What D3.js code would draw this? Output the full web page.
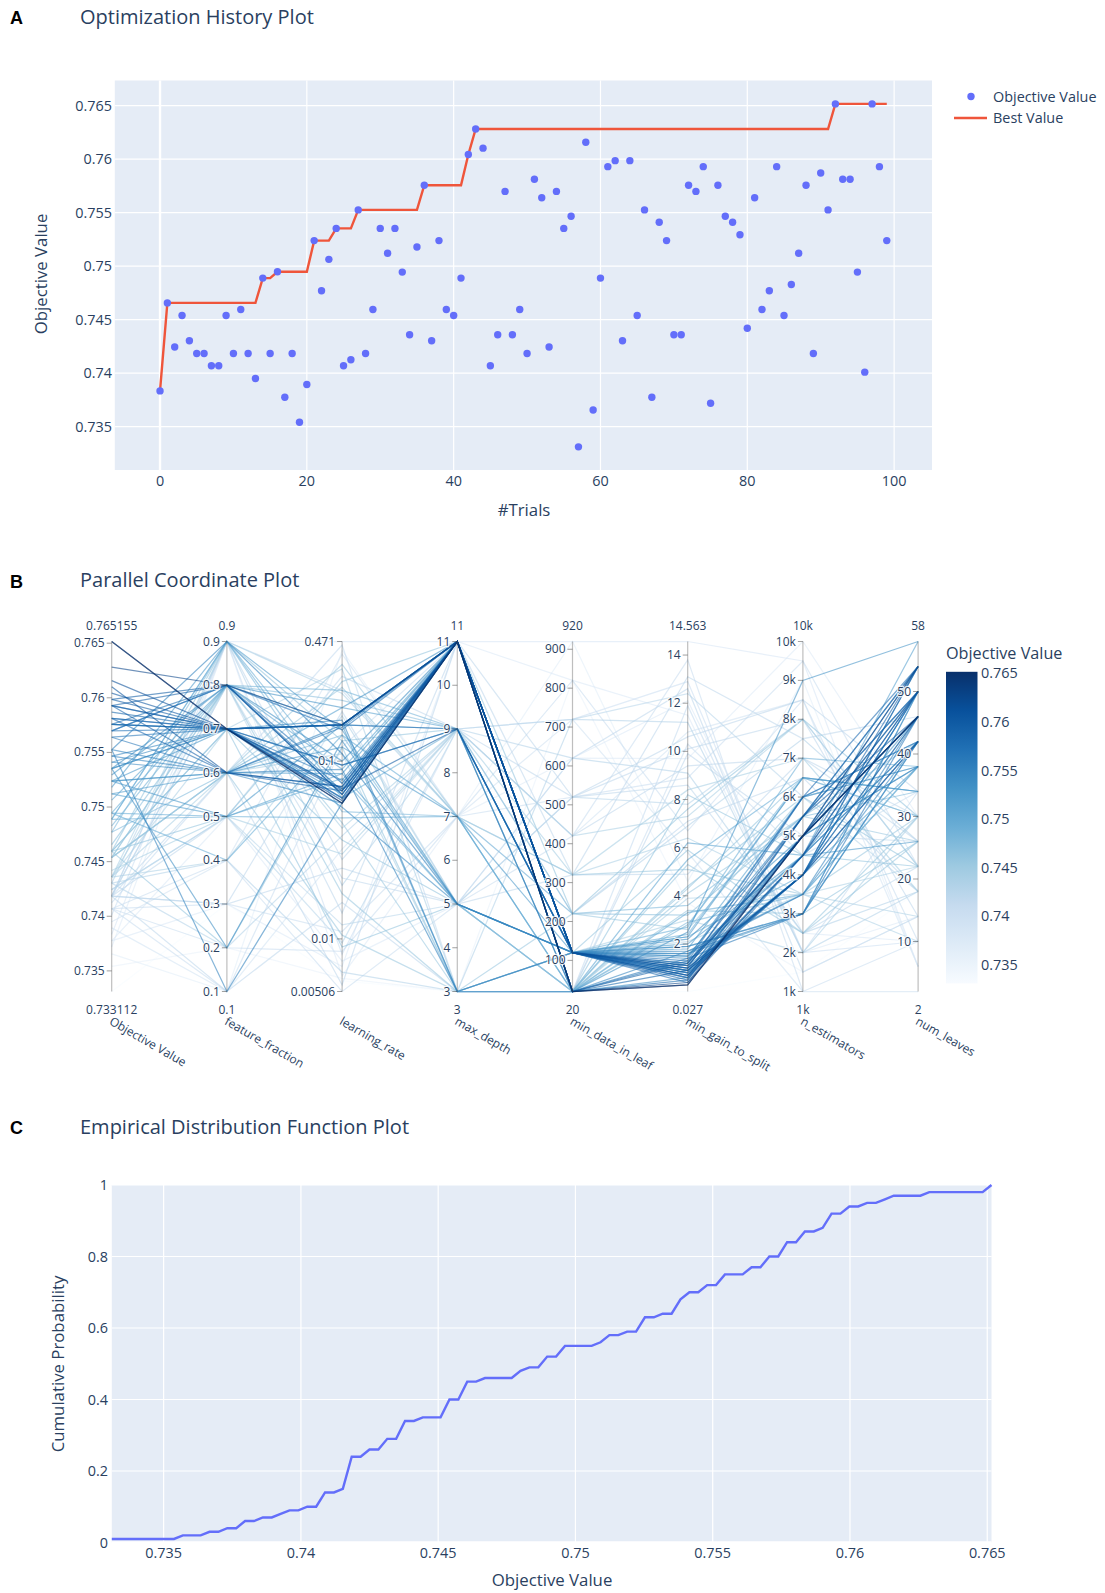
<!DOCTYPE html>
<html><head><meta charset="utf-8">
<script src="https://cdn.jsdelivr.net/npm/d3@7"></script>
<style>body{margin:0;background:#fff;} svg{display:block;}</style>
</head><body>
<svg id="chart" width="1105" height="1593"></svg>
<script>
// ---------------- DATA ----------------
const objectiveValues = [
 0.73834,0.74656,0.74244,0.74538,0.74303,0.74184,0.74184,0.74069,0.74069,0.74538,
 0.74184,0.74594,0.74184,0.73950,0.74888,0.74184,0.74947,0.73775,0.74184,0.73541,
 0.73894,0.75238,0.74769,0.75063,0.75352,0.74069,0.74125,0.75525,0.74184,0.74594,
 0.75352,0.75120,0.75352,0.74944,0.74359,0.75179,0.75756,0.74303,0.75238,0.74594,
 0.74538,0.74888,0.76043,0.76281,0.76102,0.74069,0.74359,0.75698,0.74359,0.74594,
 0.74184,0.75812,0.75639,0.74244,0.75698,0.75352,0.75466,0.733112,0.76157,0.73656,
 0.74888,0.75929,0.75985,0.74303,0.75985,0.74538,0.75525,0.73775,0.75410,0.75238,
 0.74359,0.74359,0.75756,0.75698,0.75929,0.73719,0.75756,0.75466,0.75410,0.75293,
 0.74419,0.75639,0.74594,0.74769,0.75929,0.74538,0.74828,0.75120,0.75756,0.74184,
 0.75870,0.75525,0.765155,0.75812,0.75812,0.74944,0.74009,0.765155,0.75929,0.75238];
const featureFraction = [
 0.9,0.8,0.5,0.6,0.4,0.9,0.3,0.2,0.1,0.8, 0.5,0.7,0.6,0.4,0.9,0.1,0.8,0.5,0.9,0.2,
 0.1,0.7,0.6,0.8,0.7,0.3,0.6,0.1,0.8,0.9, 0.7,0.6,0.8,0.5,0.7,0.9,0.7,0.2,0.6,0.5,
 0.8,0.9,0.7,0.8,0.6,0.4,0.6,0.7,0.9,0.7, 0.8,0.7,0.6,0.5,0.8,0.2,0.7,0.3,0.7,0.1,
 0.5,0.7,0.8,0.9,0.7,0.6,0.9,0.3,0.6,0.5, 0.8,0.4,0.7,0.8,0.6,0.9,0.7,0.6,0.7,0.8,
 0.5,0.7,0.2,0.9,0.7,0.6,0.8,0.5,0.8,0.3, 0.7,0.6,0.7,0.7,0.6,0.4,0.9,0.7,0.8,0.6];
const learningRate = [
 0.471,0.22,0.012,0.35,0.0065,0.028,0.19,0.0085,0.12,0.045,
 0.3,0.009,0.0055,0.4,0.075,0.016,0.16,0.0075,0.25,0.006,
 0.032,0.065,0.14,0.09,0.16,0.011,0.45,0.058,0.022,0.13,
 0.07,0.2,0.1,0.048,0.33,0.15,0.16,0.038,0.085,0.28,
 0.018,0.062,0.068,0.16,0.072,0.00506,0.11,0.095,0.24,0.036,
 0.014,0.062,0.155,0.0095,0.075,0.13,0.17,0.0058,0.06,0.42,
 0.08,0.16,0.065,0.02,0.07,0.26,0.11,0.007,0.058,0.16,
 0.042,0.18,0.062,0.15,0.068,0.0062,0.095,0.16,0.055,0.2,
 0.03,0.078,0.12,0.052,0.16,0.0105,0.25,0.085,0.068,0.025,
 0.16,0.09,0.058,0.16,0.072,0.14,0.0082,0.058,0.065,0.12];
const maxDepth = [
 11,9,5,7,3,9,5,7,11,3, 9,5,11,7,11,3,9,5,7,3, 9,11,5,11,11,7,3,11,5,9,
 11,9,11,7,3,5,11,9,11,11, 3,9,11,11,11,5,3,9,7,5, 11,11,11,9,11,5,3,3,11,7,
 5,11,11,9,9,7,5,11,11,3, 9,5,11,11,11,7,9,11,5,11, 9,11,3,7,11,3,9,5,11,5,
 11,3,11,9,11,7,9,11,11,7];
const minDataInLeaf = [
 920,220,520,320,720,420,620,820,20,220, 520,20,320,720,120,20,120,620,220,820,
 420,120,20,20,120,520,20,120,320,20, 20,120,120,20,120,120,20,620,120,220,
 20,120,120,20,120,420,120,120,320,20, 520,120,20,720,120,120,20,20,120,920,
 120,120,20,220,120,20,120,820,120,120, 420,20,120,120,120,620,20,120,120,20,
 320,120,20,220,120,120,20,120,120,520, 20,120,20,120,120,20,720,20,120,120];
const minGainToSplit = [
 14.563,3.2,7.8,5.1,11.2,9.4,12.6,6.7,10.3,2.6, 8.6,4.3,13.1,5.8,1.9,9.9,2.3,12.1,7.1,3.7,
 10.8,1.2,2.9,6.2,0.8,8.9,11.9,1.5,4.9,3.4, 0.6,1.8,0.9,5.5,2.1,1.1,0.5,9.1,1.6,7.6,
 4.1,2.7,0.7,0.4,1.0,13.8,3.0,1.3,6.4,8.2, 10.6,0.8,1.4,12.4,0.9,2.2,1.7,0.027,1.1,4.6,
 2.4,0.6,1.2,6.9,0.9,5.3,1.9,11.5,1.4,2.0, 7.3,3.9,0.7,1.0,0.5,9.7,1.3,1.6,1.1,2.5,
 8.4,0.8,4.4,3.6,1.2,5.9,2.8,1.5,0.6,10.1, 0.9,1.7,0.3,1.0,0.4,3.3,12.9,0.3,0.7,2.3];
const nEstimators = [
 9500,5500,8000,3500,2000,7000,1500,8500,4500,6000, 2500,6500,7500,1000,3000,5000,4000,2500,6500,1500,
 8500,5000,3500,4500,4000,9500,2000,5500,7000,3000, 4500,6000,5000,6500,3500,4000,5000,2500,3000,8000,
 5500,7000,4500,5000,4000,1000,2000,6000,3500,4500, 8500,5500,3000,6000,4000,5000,3500,1500,5000,9000,
 6500,4500,5500,7500,4000,2500,3000,2000,6000,4500, 8000,3500,5000,4000,5500,10000,4500,3500,5000,9000,
 7000,4000,6000,5500,5000,2500,6500,4500,5500,8000, 4000,3000,5000,6000,4500,3500,2000,5000,4000,6500];
const numLeaves = [
 6,42,22,30,18,26,14,10,34,38, 22,30,46,2,50,26,46,10,18,14, 6,46,38,42,50,22,34,54,30,26,
 46,42,50,34,22,38,54,18,42,30, 26,38,50,54,46,10,30,42,14,22, 34,50,46,18,54,38,42,18,50,6,
 34,54,46,26,42,30,50,14,38,26, 22,10,46,50,54,30,42,46,38,58, 18,50,22,34,46,26,30,58,50,14,
 54,42,46,54,50,38,10,46,42,34];

// tick labels
const historyXTicks = [0,20,40,60,80,100];
const historyYTicks = [0.735,0.74,0.745,0.75,0.755,0.76,0.765];
const objTicks = [0.735,0.74,0.745,0.75,0.755,0.76,0.765];
const ffTicks = [0.1,0.2,0.3,0.4,0.5,0.6,0.7,0.8,0.9];
const lrTicks = [0.00506,0.01,0.1,0.471];
const lrTickText = ["0.00506","0.01","0.1","0.471"];
const mdTicks = [3,4,5,6,7,8,9,10,11];
const mdlTicks = [100,200,300,400,500,600,700,800,900];
const mgsTicks = [2,4,6,8,10,12,14];
const nestTicks = [1000,2000,3000,4000,5000,6000,7000,8000,9000,10000];
const nestTickText = ["1k","2k","3k","4k","5k","6k","7k","8k","9k","10k"];
const nlTicks = [10,20,30,40,50];
const rangeTopLabels = ["0.765155","0.9","","11","920","14.563","10k","58"];
const rangeBottomLabels = ["0.733112","0.1","","3","20","0.027","1k","2"];
const dimNames = ["Objective Value","feature_fraction","learning_rate","max_depth","min_data_in_leaf","min_gain_to_split","n_estimators","num_leaves"];
const colorbarTicks = [0.735,0.74,0.745,0.75,0.755,0.76,0.765];
const edfXTicks = [0.735,0.74,0.745,0.75,0.755,0.76,0.765];
const edfYTicks = [0,0.2,0.4,0.6,0.8,1];

// ---------------- STYLE ----------------
const FONT = '"Open Sans", "DejaVu Sans", sans-serif';
const TXT = "#2a3f5f";
const BG = "#E5ECF6";
const BLUE = "#636efa", RED = "#EF553B";
const BLUES = ["#f7fbff","#deebf7","#c6dbef","#9ecae1","#6baed6","#4292c6","#2171b5","#08519c","#08306b"];
const fmt = v => String(+v.toFixed(4));

const svg = d3.select("#chart").style("font-family", FONT);

function panelLabel(t, y){ svg.append("text").attr("x",10).attr("y",y).attr("font-family","Arial, 'Liberation Sans', sans-serif").attr("font-weight","bold").attr("font-size",18).attr("fill","#000").text(t); }
function title(t, y){ svg.append("text").attr("x",80).attr("y",y).attr("font-size",20).attr("fill",TXT).text(t); }

// ================= PANEL A =================
panelLabel("A", 24); title("Optimization History Plot", 24);
const A = {l:114.8, r:932, t:80.5, b:470};
const xA = d3.scaleLinear().domain([-6.16,105.16]).range([A.l,A.r]);
const yA = d3.scaleLinear().domain([0.73095,0.76734]).range([A.b,A.t]);
const gA = svg.append("g");
gA.append("rect").attr("x",A.l).attr("y",A.t).attr("width",A.r-A.l).attr("height",A.b-A.t).attr("fill",BG);
historyXTicks.forEach(t=>{
  gA.append("line").attr("x1",xA(t)).attr("x2",xA(t)).attr("y1",A.t).attr("y2",A.b).attr("stroke","#fff").attr("stroke-width",t===0?2.4:1.2);
  gA.append("text").attr("x",xA(t)).attr("y",486).attr("text-anchor","middle").attr("font-size",14.4).attr("fill",TXT).text(t);
});
historyYTicks.forEach(t=>{
  gA.append("line").attr("x1",A.l).attr("x2",A.r).attr("y1",yA(t)).attr("y2",yA(t)).attr("stroke","#fff").attr("stroke-width",1.2);
  gA.append("text").attr("x",112).attr("y",yA(t)+5).attr("text-anchor","end").attr("font-size",14.4).attr("fill",TXT).text(fmt(t));
});
let runBest = -Infinity;
const bestValues = objectiveValues.map(v => (runBest = Math.max(runBest, v)));
gA.append("path").datum(bestValues).attr("fill","none").attr("stroke",RED).attr("stroke-width",2.4)
  .attr("d", d3.line().x((d,i)=>xA(i)).y(d=>yA(d)));
gA.selectAll("circle.pt").data(objectiveValues).join("circle").attr("class","pt")
  .attr("cx",(d,i)=>xA(i)).attr("cy",d=>yA(d)).attr("r",3.7).attr("fill",BLUE);
gA.append("text").attr("x",524).attr("y",516).attr("text-anchor","middle").attr("font-size",16.8).attr("fill",TXT).text("#Trials");
gA.append("text").attr("transform","translate(47,274) rotate(-90)").attr("text-anchor","middle").attr("font-size",16.8).attr("fill",TXT).text("Objective Value");
// legend
gA.append("circle").attr("cx",971).attr("cy",96.5).attr("r",3.7).attr("fill",BLUE);
gA.append("text").attr("x",993).attr("y",101.5).attr("font-size",14.4).attr("fill",TXT).text("Objective Value");
gA.append("line").attr("x1",954).attr("x2",987).attr("y1",118).attr("y2",118).attr("stroke",RED).attr("stroke-width",2.4);
gA.append("text").attr("x",993).attr("y",123).attr("font-size",14.4).attr("fill",TXT).text("Best Value");

// ================= PANEL B =================
panelLabel("B", 588); title("Parallel Coordinate Plot", 587);
const B = {l:111.7, r:918.1, t:641.5, b:991.5};
const objExt = d3.extent(objectiveValues);
const dims = [
  {vals:objectiveValues, scale:d3.scaleLinear().domain(objExt), ticks:objTicks, text:objTicks.map(fmt)},
  {vals:featureFraction, scale:d3.scaleLinear().domain(d3.extent(featureFraction)), ticks:ffTicks, text:ffTicks.map(fmt)},
  {vals:learningRate, scale:d3.scaleLog().domain(d3.extent(learningRate)), ticks:lrTicks, text:lrTickText},
  {vals:maxDepth, scale:d3.scaleLinear().domain(d3.extent(maxDepth)), ticks:mdTicks, text:mdTicks.map(String)},
  {vals:minDataInLeaf, scale:d3.scaleLinear().domain(d3.extent(minDataInLeaf)), ticks:mdlTicks, text:mdlTicks.map(String)},
  {vals:minGainToSplit, scale:d3.scaleLinear().domain(d3.extent(minGainToSplit)), ticks:mgsTicks, text:mgsTicks.map(String)},
  {vals:nEstimators, scale:d3.scaleLinear().domain(d3.extent(nEstimators)), ticks:nestTicks, text:nestTickText},
  {vals:numLeaves, scale:d3.scaleLinear().domain(d3.extent(numLeaves)), ticks:nlTicks, text:nlTicks.map(String)}
];
dims.forEach(d=>d.scale.range([B.b,B.t]));
const xB = d3.scalePoint().domain(dimNames).range([B.l,B.r]);
const colorB = d3.scaleLinear().domain(BLUES.map((c,i)=>objExt[0]+(objExt[1]-objExt[0])*i/(BLUES.length-1))).range(BLUES);
const gB = svg.append("g");
const order = d3.range(objectiveValues.length).sort((a,b)=>objectiveValues[a]-objectiveValues[b]);
const lineB = d3.line();
gB.selectAll("path.pc").data(order).join("path").attr("class","pc")
  .attr("fill","none").attr("stroke",i=>colorB(objectiveValues[i])).attr("stroke-width",1.25).attr("stroke-opacity",0.58)
  .attr("d",i=>lineB(dims.map((d,k)=>[xB(dimNames[k]), d.scale(d.vals[i])])));
dims.forEach((d,k)=>{
  const x = xB(dimNames[k]);
  const ax = gB.append("g");
  ax.append("line").attr("x1",x).attr("x2",x).attr("y1",B.t).attr("y2",B.b).attr("stroke","#444").attr("stroke-opacity",0.35).attr("stroke-width",1.2);
  d.ticks.forEach((t,j)=>{
    const y = d.scale(t);
    ax.append("line").attr("x1",x-5).attr("x2",x).attr("y1",y).attr("y2",y).attr("stroke","#444").attr("stroke-opacity",0.5);
    ax.append("text").attr("x",x-7).attr("y",y+4).attr("text-anchor","end").attr("font-size",12).attr("fill",TXT)
      .attr("stroke","#fff").attr("stroke-width",2.5).attr("stroke-opacity",0.8).attr("paint-order","stroke").text(d.text[j]);
  });
  ax.append("text").attr("x",x).attr("y",629.5).attr("text-anchor","middle").attr("font-size",12).attr("fill",TXT).text(rangeTopLabels[k]);
  ax.append("text").attr("x",x).attr("y",1013.5).attr("text-anchor","middle").attr("font-size",12).attr("fill",TXT).text(rangeBottomLabels[k]);
  ax.append("text").attr("transform",`translate(${x},1014) rotate(30)`).attr("x",2).attr("y",10).attr("font-size",12).attr("fill",TXT).text(dimNames[k]);
});
// colorbar
const CB = {x:946, w:31.5, t:671.8, b:983.4};
const cbScale = d3.scaleLinear().domain(objExt).range([CB.b,CB.t]);
const grad = svg.append("defs").append("linearGradient").attr("id","cbgrad").attr("x1",0).attr("x2",0).attr("y1",1).attr("y2",0);
BLUES.forEach((c,i)=>grad.append("stop").attr("offset",i/(BLUES.length-1)).attr("stop-color",c));
gB.append("rect").attr("x",CB.x).attr("y",CB.t).attr("width",CB.w).attr("height",CB.b-CB.t).attr("fill","url(#cbgrad)");
colorbarTicks.forEach(t=>{
  gB.append("text").attr("x",981).attr("y",cbScale(t)+5).attr("font-size",14.4).attr("fill",TXT).text(fmt(t));
});
gB.append("text").attr("x",946).attr("y",659).attr("font-size",16.2).attr("fill",TXT).text("Objective Value");

// ================= PANEL C =================
panelLabel("C", 1134); title("Empirical Distribution Function Plot", 1133.5);
const C = {l:111.8, r:991.5, t:1185, b:1542.5};
const xC = d3.scaleLinear().domain(objExt).range([C.l,C.r]);
const yC = d3.scaleLinear().domain([0,1]).range([C.b,C.t]);
const gC = svg.append("g");
gC.append("rect").attr("x",C.l).attr("y",C.t).attr("width",C.r-C.l).attr("height",C.b-C.t).attr("fill",BG);
edfXTicks.forEach(t=>{
  gC.append("line").attr("x1",xC(t)).attr("x2",xC(t)).attr("y1",C.t).attr("y2",C.b).attr("stroke","#fff").attr("stroke-width",1.2);
  gC.append("text").attr("x",xC(t)).attr("y",1558).attr("text-anchor","middle").attr("font-size",14.4).attr("fill",TXT).text(fmt(t));
});
edfYTicks.forEach(t=>{
  gC.append("line").attr("x1",C.l).attr("x2",C.r).attr("y1",yC(t)).attr("y2",yC(t)).attr("stroke","#fff").attr("stroke-width",t===0?2.4:1.2);
  gC.append("text").attr("x",108).attr("y",yC(t)+5).attr("text-anchor","end").attr("font-size",14.4).attr("fill",TXT).text(fmt(t));
});
const nGrid = 100;
const edfX = d3.range(nGrid).map(i=>objExt[0]+(objExt[1]-objExt[0])*i/(nGrid-1));
const edfY = edfX.map(x=>objectiveValues.filter(v=>v<=x+1e-12).length/objectiveValues.length);
gC.append("path").datum(edfX).attr("fill","none").attr("stroke",BLUE).attr("stroke-width",2.4)
  .attr("d", d3.line().x(d=>xC(d)).y((d,i)=>yC(edfY[i])));
gC.append("text").attr("x",552).attr("y",1586).attr("text-anchor","middle").attr("font-size",16.8).attr("fill",TXT).text("Objective Value");
gC.append("text").attr("transform","translate(64,1364) rotate(-90)").attr("text-anchor","middle").attr("font-size",16.8).attr("fill",TXT).text("Cumulative Probability");
</script>
</body></html>
